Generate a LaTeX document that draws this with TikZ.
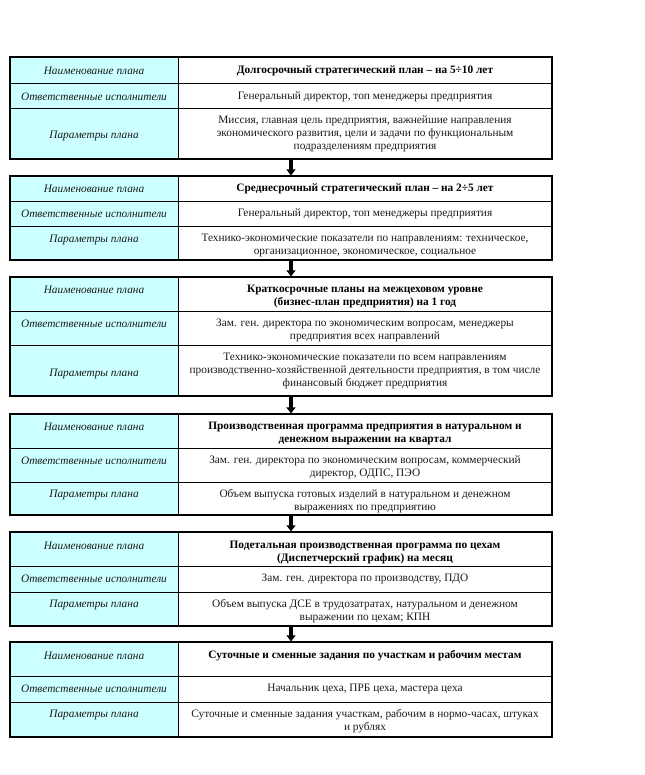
\documentclass[tikz,border=0pt]{standalone}
\usepackage{fontspec}
\setmainfont{Liberation Serif}
\usetikzlibrary{arrows.meta,fit}
\definecolor{cellfill}{HTML}{CCFFFF}
\definecolor{ink}{HTML}{1A1A1A}
\begin{document}
\begin{tikzpicture}[x=0.75pt,y=-0.75pt,
  lab/.style={font=\fontsize{8.5}{9.75}\selectfont\itshape, text=ink, inner sep=0pt, align=center, yshift=-1.2pt},
  txt/.style={font=\fontsize{8.5}{9.75}\selectfont, text=ink, inner sep=0pt, align=center, yshift=-1.2pt},
  ttl/.style={font=\fontsize{8.5}{9.75}\selectfont\bfseries, inner sep=0pt, align=center, yshift=-1.2pt},
  blockbox/.style={draw, line width=0.8pt, inner sep=0pt},
  grid/.style={line width=0.7pt},
  arr/.style={line width=2.3pt, -{Triangle[length=4.5pt,width=6.5pt]}}]
\useasboundingbox (0,0) rectangle (645,775);
% ---------- backgrounds ----------
\fill[cellfill] (10,57) rectangle (178,159);
\fill[cellfill] (10,176) rectangle (178,260);
\fill[cellfill] (10,277) rectangle (178,396);
\fill[cellfill] (10,414) rectangle (178,515);
\fill[cellfill] (10,532) rectangle (178,626);
\fill[cellfill] (10,642) rectangle (178,737);
% ---------- block frames ----------
\coordinate (p1a) at (10,57);  \coordinate (p1b) at (552,159);
\coordinate (p2a) at (10,176); \coordinate (p2b) at (552,260);
\coordinate (p3a) at (10,277); \coordinate (p3b) at (552,396);
\coordinate (p4a) at (10,414); \coordinate (p4b) at (552,515);
\coordinate (p5a) at (10,532); \coordinate (p5b) at (552,626);
\coordinate (p6a) at (10,642); \coordinate (p6b) at (552,737);
\node[blockbox, fit=(p1a)(p1b)] (B1) {};
\node[blockbox, fit=(p2a)(p2b)] (B2) {};
\node[blockbox, fit=(p3a)(p3b)] (B3) {};
\node[blockbox, fit=(p4a)(p4b)] (B4) {};
\node[blockbox, fit=(p5a)(p5b)] (B5) {};
\node[blockbox, fit=(p6a)(p6b)] (B6) {};
% ---------- inner lines ----------
\draw[grid] (178,57) -- (178,159) (10,83) -- (552,83) (10,108) -- (552,108);
\draw[grid] (178,176) -- (178,260) (10,201) -- (552,201) (10,226) -- (552,226);
\draw[grid] (178,277) -- (178,396) (10,311) -- (552,311) (10,345) -- (552,345);
\draw[grid] (178,414) -- (178,515) (10,448) -- (552,448) (10,482) -- (552,482);
\draw[grid] (178,532) -- (178,626) (10,566) -- (552,566) (10,592) -- (552,592);
\draw[grid] (178,642) -- (178,737) (10,676) -- (552,676) (10,702) -- (552,702);
% ---------- arrows ----------
\draw[arr] ([xshift=7.5pt]B1.south) -- ([xshift=7.5pt]B2.north);
\draw[arr] ([xshift=7.5pt]B2.south) -- ([xshift=7.5pt]B3.north);
\draw[arr] ([xshift=7.5pt]B3.south) -- ([xshift=7.5pt]B4.north);
\draw[arr] ([xshift=7.5pt]B4.south) -- ([xshift=7.5pt]B5.north);
\draw[arr] ([xshift=7.5pt]B5.south) -- ([xshift=7.5pt]B6.north);
% ---------- block 1 ----------
\node[lab] (n1) at (94,69) {Наименование плана};
\node[ttl] (t1) at (365,69) {Долгосрочный стратегический план – на 5÷10 лет};
\node[lab] (o1) at (94,95) {Ответственные исполнители};
\node[txt] (r1) at (365,95) {Генеральный директор, топ менеджеры предприятия};
\node[lab] (m1) at (94,134) {Параметры плана};
\node[txt] (q1) at (365,132) {Миссия, главная цель предприятия, важнейшие направления\\экономического развития, цели и задачи по функциональным\\подразделениям предприятия};
% ---------- block 2 ----------
\node[lab] (n2) at (94,187) {Наименование плана};
\node[ttl] (t2) at (365,187) {Среднесрочный стратегический план – на 2÷5 лет};
\node[lab] (o2) at (94,212) {Ответственные исполнители};
\node[txt] (r2) at (365,212) {Генеральный директор, топ менеджеры предприятия};
\node[lab] (m2) at (94,238) {Параметры плана};
\node[txt] (q2) at (365,244) {Технико-экономические показатели по направлениям: техническое,\\организационное, экономическое, социальное};
% ---------- block 3 ----------
\node[lab] (n3) at (94,288) {Наименование плана};
\node[ttl] (t3) at (365,294.5) {Краткосрочные планы на межцеховом уровне\\(бизнес-план предприятия) на 1 год};
\node[lab] (o3) at (94,322) {Ответственные исполнители};
\node[txt] (r3) at (365,328.5) {Зам. ген. директора по экономическим вопросам, менеджеры\\предприятия всех направлений};
\node[lab] (m3) at (94,372) {Параметры плана};
\node[txt] (q3) at (365,369) {Технико-экономические показатели по всем направлениям\\производственно-хозяйственной деятельности предприятия, в том числе\\финансовый бюджет предприятия};
% ---------- block 4 ----------
\node[lab] (n4) at (94,425) {Наименование плана};
\node[ttl] (t4) at (365,431.5) {Производственная программа предприятия в натуральном и\\денежном выражении на квартал};
\node[lab] (o4) at (94,459) {Ответственные исполнители};
\node[txt] (r4) at (365,465.5) {Зам. ген. директора по экономическим вопросам, коммерческий\\директор, ОДПС, ПЭО};
\node[lab] (m4) at (94,493) {Параметры плана};
\node[txt] (q4) at (365,499.5) {Объем выпуска готовых изделий в натуральном и денежном\\выражениях по предприятию};
% ---------- block 5 ----------
\node[lab] (n5) at (94,544) {Наименование плана};
\node[ttl] (t5) at (365,550.5) {Подетальная производственная программа по цехам\\(Диспетчерский график) на месяц};
\node[lab] (o5) at (94,577) {Ответственные исполнители};
\node[txt] (r5) at (365,577) {Зам. ген. директора по производству, ПДО};
\node[lab] (m5) at (94,603) {Параметры плана};
\node[txt] (q5) at (365,610) {Объем выпуска ДСЕ в трудозатратах, натуральном и денежном\\выражении по цехам; КПН};
% ---------- block 6 ----------
\node[lab] (n6) at (94,654) {Наименование плана};
\node[ttl] (t6) at (365,654) {Суточные и сменные задания по участкам и рабочим местам};
\node[lab] (o6) at (94,687) {Ответственные исполнители};
\node[txt] (r6) at (365,687) {Начальник цеха, ПРБ цеха, мастера цеха};
\node[lab] (m6) at (94,713) {Параметры плана};
\node[txt] (q6) at (365,719.5) {Суточные и сменные задания участкам, рабочим в нормо-часах, штуках\\и рублях};
\end{tikzpicture}
\end{document}
